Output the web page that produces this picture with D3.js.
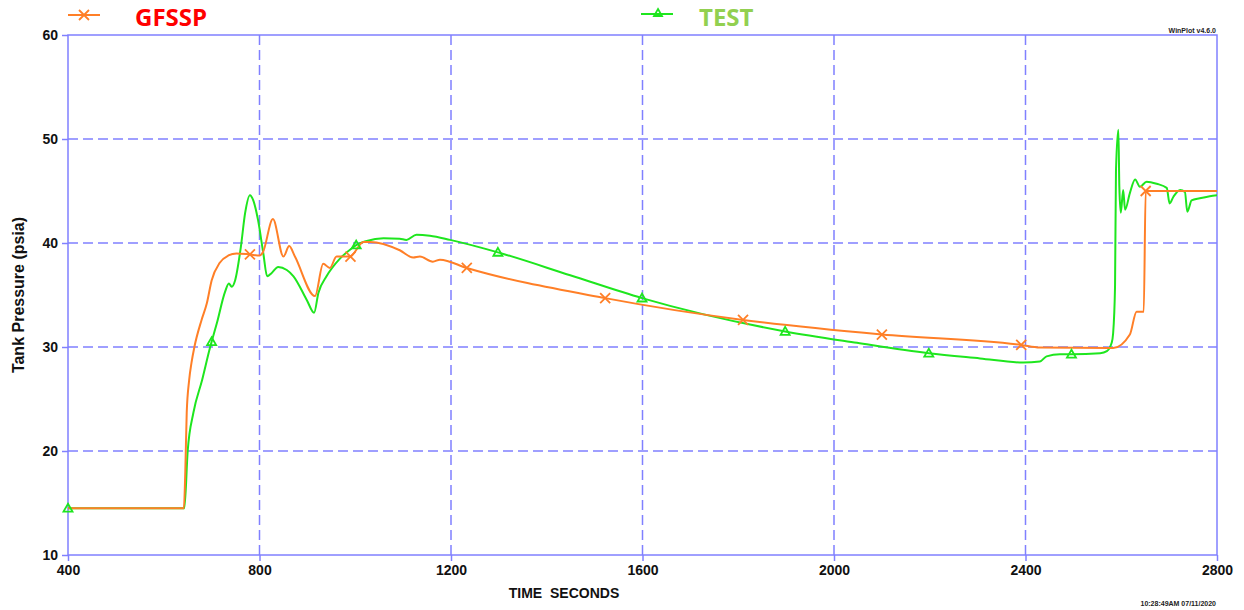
<!DOCTYPE html>
<html>
<head>
<meta charset="utf-8">
<script src="https://cdn.jsdelivr.net/npm/d3@7"></script>
<style>
  body { margin: 0; background: #fff; }
  svg { font-family: "Liberation Sans", Arial, sans-serif; }
</style>
</head>
<body>
<svg id="chart" width="1244" height="610"></svg>
<script>
// GFSSP model (time s, pressure psia)
var gfsspData = [
  [400,14.5],[642,14.5],[645,18.0],[648,23.7],[653,26.8],[658,28.5],[664,30.0],[679,32.6],[690,34.2],[700,36.4],
  [717,38.1],[735,38.8],[752,39.0],[780,38.9],[801,38.8],[807,39.1],[828,42.3],[850,38.7],[862,39.7],[874,38.7],
  [916,34.9],[933,38.0],[947,37.6],[961,38.7],[989,38.7],[1017,40.1],[1031,40.1],[1093,39.3],
  [1121,38.6],[1135,38.7],[1162,38.2],[1177,38.4],[1233,37.6],[1522,34.7],[1810,32.6],
  [2100,31.2],[2391,30.2],[2430,29.95],[2583,29.9],[2618,31.2],[2632,33.4],[2647,33.4],
  [2651,45.0],[2800,45.0]
];
var gfsspMarks = [[780,38.9],[990,38.7],[1233,37.6],[1522,34.7],[1810,32.6],[2100,31.2],[2391,30.2],[2651,45.0]];

// test data
var testData = [
  [400,14.5],[643,14.5],[650,20.0],[662,23.7],[680,26.8],[697,30.0],[700,30.5],[711,32.3],[728,35.3],[736,36.1],
  [742,35.8],[749,36.4],[761,39.6],[770,42.9],[780,44.6],[787,44.1],[797,42.2],[808,39.0],
  [816,36.8],[825,37.1],[839,37.7],[857,37.4],[871,36.8],[899,34.5],[914,33.3],[923,35.2],
  [940,36.8],[968,38.5],[993,39.5],[1002,39.8],[1024,40.2],[1059,40.45],[1093,40.4],
  [1107,40.3],[1128,40.8],[1156,40.7],[1198,40.3],[1298,39.1],[1449,36.9],[1599,34.7],
  [1898,31.5],[2048,30.4],[2198,29.4],[2305,28.9],[2395,28.5],[2430,28.6],[2444,29.1],
  [2472,29.3],[2496,29.3],[2556,29.4],[2570,29.6],[2580,30.4],[2583,31.3],[2587,35.8],
  [2589,47.0],[2594,50.9],[2596,45.4],[2599,42.9],[2604,45.1],[2608,43.2],[2618,44.8],
  [2629,46.1],[2639,45.4],[2653,45.9],[2674,45.7],[2695,45.3],[2701,43.8],[2709,44.45],
  [2723,45.1],[2733,44.9],[2738,43.0],[2747,44.1],[2764,44.3],[2785,44.5],[2800,44.6]
];
var testMarks = [[400,14.5],[700,30.5],[1002,39.8],[1298,39.1],[1599,34.7],[1898,31.5],[2198,29.4],[2496,29.3]];

var xTicks = [400,800,1200,1600,2000,2400,2800];
var yTicks = [10,20,30,40,50,60];

var orange = "#ff7f27", green = "#1ee61e", gridBlue = "#8080ff";

var svg = d3.select("#chart");
var plotL = 68, plotR = 1217, plotT = 35, plotB = 555;

var x = d3.scaleLinear().domain([400,2800]).range([plotL,plotR]);
var y = d3.scaleLinear().domain([10,60]).range([plotB,plotT]);

// grid
svg.append("g").selectAll("line").data(xTicks.slice(1,-1)).join("line")
  .attr("x1",d=>x(d)).attr("x2",d=>x(d)).attr("y1",plotT).attr("y2",plotB)
  .attr("stroke",gridBlue).attr("stroke-width",1.5).attr("stroke-dasharray","10,5");
svg.append("g").selectAll("line").data(yTicks.slice(1,-1)).join("line")
  .attr("y1",d=>y(d)).attr("y2",d=>y(d)).attr("x1",plotL).attr("x2",plotR)
  .attr("stroke",gridBlue).attr("stroke-width",1.5).attr("stroke-dasharray","10,5");

// frame
svg.append("rect").attr("x",plotL).attr("y",plotT).attr("width",plotR-plotL).attr("height",plotB-plotT)
  .attr("fill","none").attr("stroke",gridBlue).attr("stroke-width",1.5);

// axes
var xAxis = svg.append("g").attr("transform","translate(0,"+plotB+")")
  .call(d3.axisBottom(x).tickValues(xTicks).tickFormat(d3.format("d")).tickSize(6).tickPadding(4));
var yAxis = svg.append("g").attr("transform","translate("+plotL+",0)")
  .call(d3.axisLeft(y).tickValues(yTicks).tickFormat(d3.format("d")).tickSize(6).tickPadding(4));
[xAxis,yAxis].forEach(function(a){
  a.select(".domain").remove();
  a.selectAll(".tick line").attr("stroke",gridBlue).attr("stroke-width",1.5);
  a.selectAll(".tick text").attr("fill","#111").style("font-size","14px").style("font-weight","bold")
    .style("font-family","'Liberation Sans', Arial, sans-serif");
});

// axis titles
svg.append("text").attr("transform","translate(24,295) rotate(-90)").attr("text-anchor","middle")
  .style("font-size","16px").style("font-weight","bold").attr("fill","#111")
  .text("Tank Pressure (psia)");
svg.append("text").attr("x",564).attr("y",598).attr("text-anchor","middle")
  .style("font-size","14px").style("font-weight","bold").attr("fill","#111")
  .attr("xml:space","preserve").text("TIME  SECONDS");

svg.append("text").attr("x",1216).attr("y",33).attr("text-anchor","end")
  .style("font-size","7px").style("font-weight","bold").attr("fill","#222").text("WinPlot v4.6.0");
svg.append("text").attr("x",1216).attr("y",606).attr("text-anchor","end")
  .style("font-size","7px").style("font-weight","bold").attr("fill","#222").text("10:28:49AM 07/11/2020");

var line = d3.line().x(d=>x(d[0])).y(d=>y(d[1])).curve(d3.curveMonotoneX);

svg.append("path").datum(testData).attr("d",line).attr("fill","none")
  .attr("stroke",green).attr("stroke-width",2).attr("stroke-linejoin","round");
svg.append("path").datum(gfsspData).attr("d",line).attr("fill","none")
  .attr("stroke",orange).attr("stroke-width",2).attr("stroke-linejoin","round");

function crossPath(cx,cy,s){
  return "M"+(cx-s)+","+(cy-s)+"L"+(cx+s)+","+(cy+s)+"M"+(cx-s)+","+(cy+s)+"L"+(cx+s)+","+(cy-s);
}
function triPath(cx,cy,s){
  return "M"+cx+","+(cy-s)+"L"+(cx+s)+","+(cy+s*0.75)+"L"+(cx-s)+","+(cy+s*0.75)+"Z";
}

svg.append("g").selectAll("path").data(gfsspMarks).join("path")
  .attr("d",d=>crossPath(x(d[0]),y(d[1]),5)).attr("stroke",orange).attr("stroke-width",1.8).attr("fill","none");
svg.append("g").selectAll("path").data(testMarks).join("path")
  .attr("d",d=>triPath(x(d[0]),y(d[1]),4.5)).attr("stroke",green).attr("stroke-width",1.8).attr("fill","none");

// legend
var legend = svg.append("g");
legend.append("line").attr("x1",68).attr("x2",100).attr("y1",15).attr("y2",15).attr("stroke",orange).attr("stroke-width",2);
legend.append("path").attr("d",crossPath(84,15,5)).attr("stroke",orange).attr("stroke-width",1.8);
legend.append("text").attr("x",135).attr("y",26).text("GFSSP")
  .style("font-family","'Open Sans', sans-serif").style("font-size","24px").style("font-weight","bold").attr("fill","#ff0000");
legend.append("line").attr("x1",641).attr("x2",673).attr("y1",14).attr("y2",14).attr("stroke",green).attr("stroke-width",2);
legend.append("path").attr("d",triPath(658,13,4)).attr("stroke",green).attr("stroke-width",1.8).attr("fill","none");
legend.append("text").attr("x",699).attr("y",26).text("TEST")
  .style("font-family","'Open Sans', sans-serif").style("font-size","24px").style("font-weight","bold").attr("fill","#92d050");
</script>
</body>
</html>
